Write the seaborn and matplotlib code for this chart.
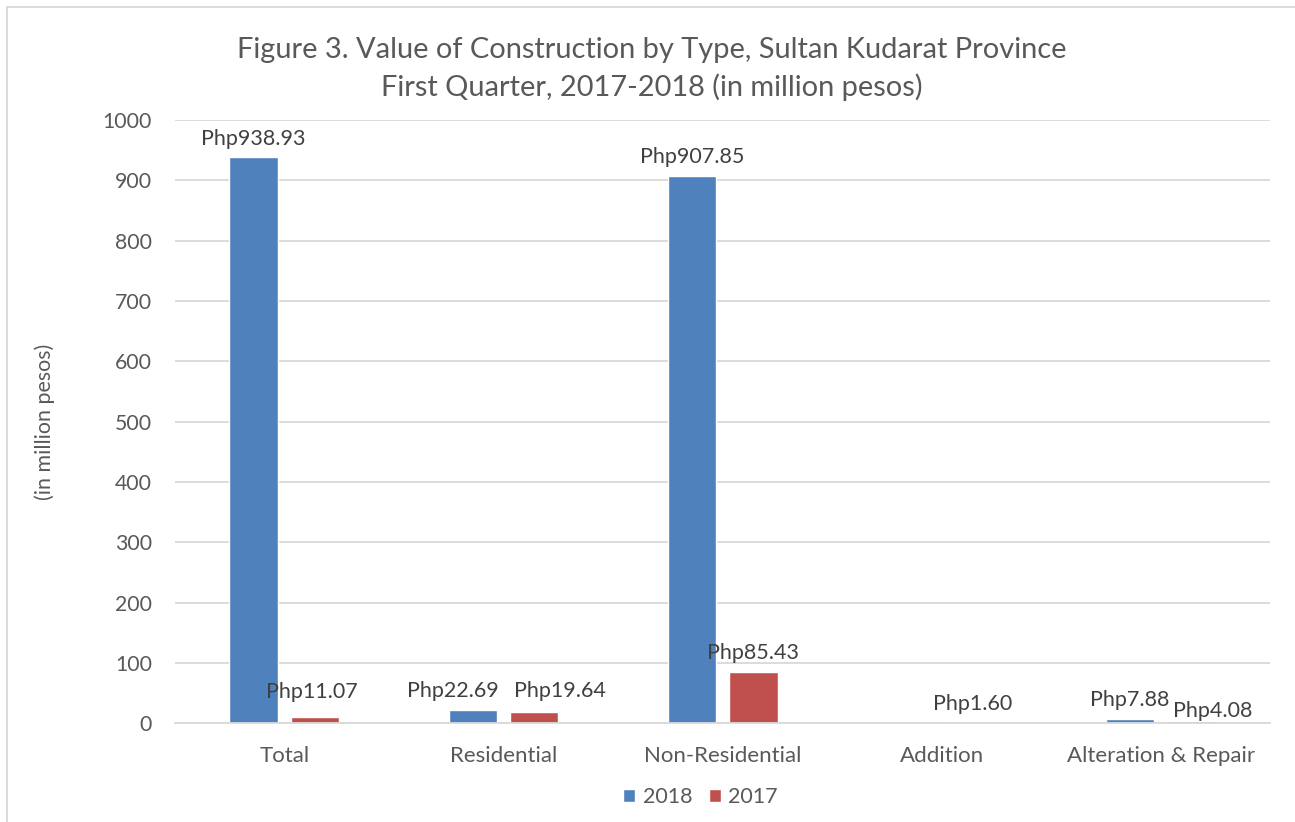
import numpy as np
import pandas as pd
import matplotlib.pyplot as plt
import seaborn as sns
from matplotlib.patches import Rectangle

categories = ["Total", "Residential", "Non-Residential", "Addition", "Alteration & Repair"]
values_2018 = [938.93, 22.69, 907.85, np.nan, 7.88]
values_2017 = [11.07, 19.64, 85.43, 1.60, 4.08]
years = ["2018", "2017"]

df = pd.DataFrame({
    "Type": categories * 2,
    "Year": [years[0]] * len(categories) + [years[1]] * len(categories),
    "Value": values_2018 + values_2017,
})

# label nudges in pixels (Excel shifts a few labels to avoid overlaps)
nudges = {
    ("2017", "Total"): (-3, 6),
    ("2018", "Residential"): (-20, 0),
    ("2017", "Residential"): (26, 2),
    ("2018", "Alteration & Repair"): (-10, 4),
    ("2017", "Alteration & Repair"): (21, -8),
}

sns.set_style("white")
plt.rcParams["font.family"] = ["Lato", "DejaVu Sans"]
text_color = "#595959"
px = 72 / 100  # pixels -> points

fig = plt.figure(figsize=(12.95, 8.22), dpi=100)
ax = fig.add_axes([0.135, 0.120, 0.846, 0.734])

palette = {"2018": "#4F81BD", "2017": "#C0504D"}
sns.barplot(data=df, x="Type", y="Value", hue="Year", hue_order=years,
            order=categories, palette=palette, width=0.56, gap=0.21,
            saturation=1, ax=ax, legend=True)

# data labels (skip missing bars)
for year, cont in zip(years, ax.containers):
    for cat, bar in zip(categories, cont):
        if bar is None:
            continue
        h = bar.get_height()
        if np.isnan(h):
            continue
        dx, dy = nudges.get((year, cat), (0, 0))
        ax.annotate(f"Php{h:.2f}", (bar.get_x() + bar.get_width() / 2, h),
                    xytext=(dx * px, 6 + dy * px), textcoords="offset points",
                    ha="center", va="bottom", fontsize=15.5, color="#404040")

ax.set_ylim(0, 1000)
ax.set_yticks(range(0, 1001, 100))
ax.set_xlim(-0.5, len(categories) - 0.5)
ax.yaxis.grid(True, color="#D9D9D9", linewidth=1.3)
ax.set_axisbelow(True)
for s in ["top", "right", "left"]:
    ax.spines[s].set_visible(False)
ax.spines["bottom"].set_color("#D9D9D9")
ax.spines["bottom"].set_linewidth(1.3)
ax.tick_params(axis="y", length=0, labelsize=15.3, labelcolor=text_color, pad=16.5)
ax.tick_params(axis="x", length=0, labelsize=16, labelcolor=text_color, pad=16)
ax.set_xlabel("")
ax.set_ylabel("(in million pesos)", fontsize=15.4, color=text_color)
ax.yaxis.set_label_coords(-0.109, 0.5)

fig.suptitle("Figure 3. Value of Construction by Type, Sultan Kudarat Province\nFirst Quarter, 2017-2018 (in million pesos)",
             fontsize=20.9, color=text_color, y=0.955, x=0.503, linespacing=1.44)

leg = ax.legend(loc="upper center", bbox_to_anchor=(0.48, -0.074), ncol=2, frameon=False,
                fontsize=15.5, handlelength=0.56, handleheight=0.56, columnspacing=0.8,
                handletextpad=0.33)
for t in leg.get_texts():
    t.set_color(text_color)

fig.patches.append(Rectangle((7 / 1295, -0.01), 1.02, 1 - 7 / 822 + 0.01,
                             transform=fig.transFigure, fill=False,
                             edgecolor="#D9D9D9", linewidth=1.3))

fig.savefig("out.png", dpi=100)
